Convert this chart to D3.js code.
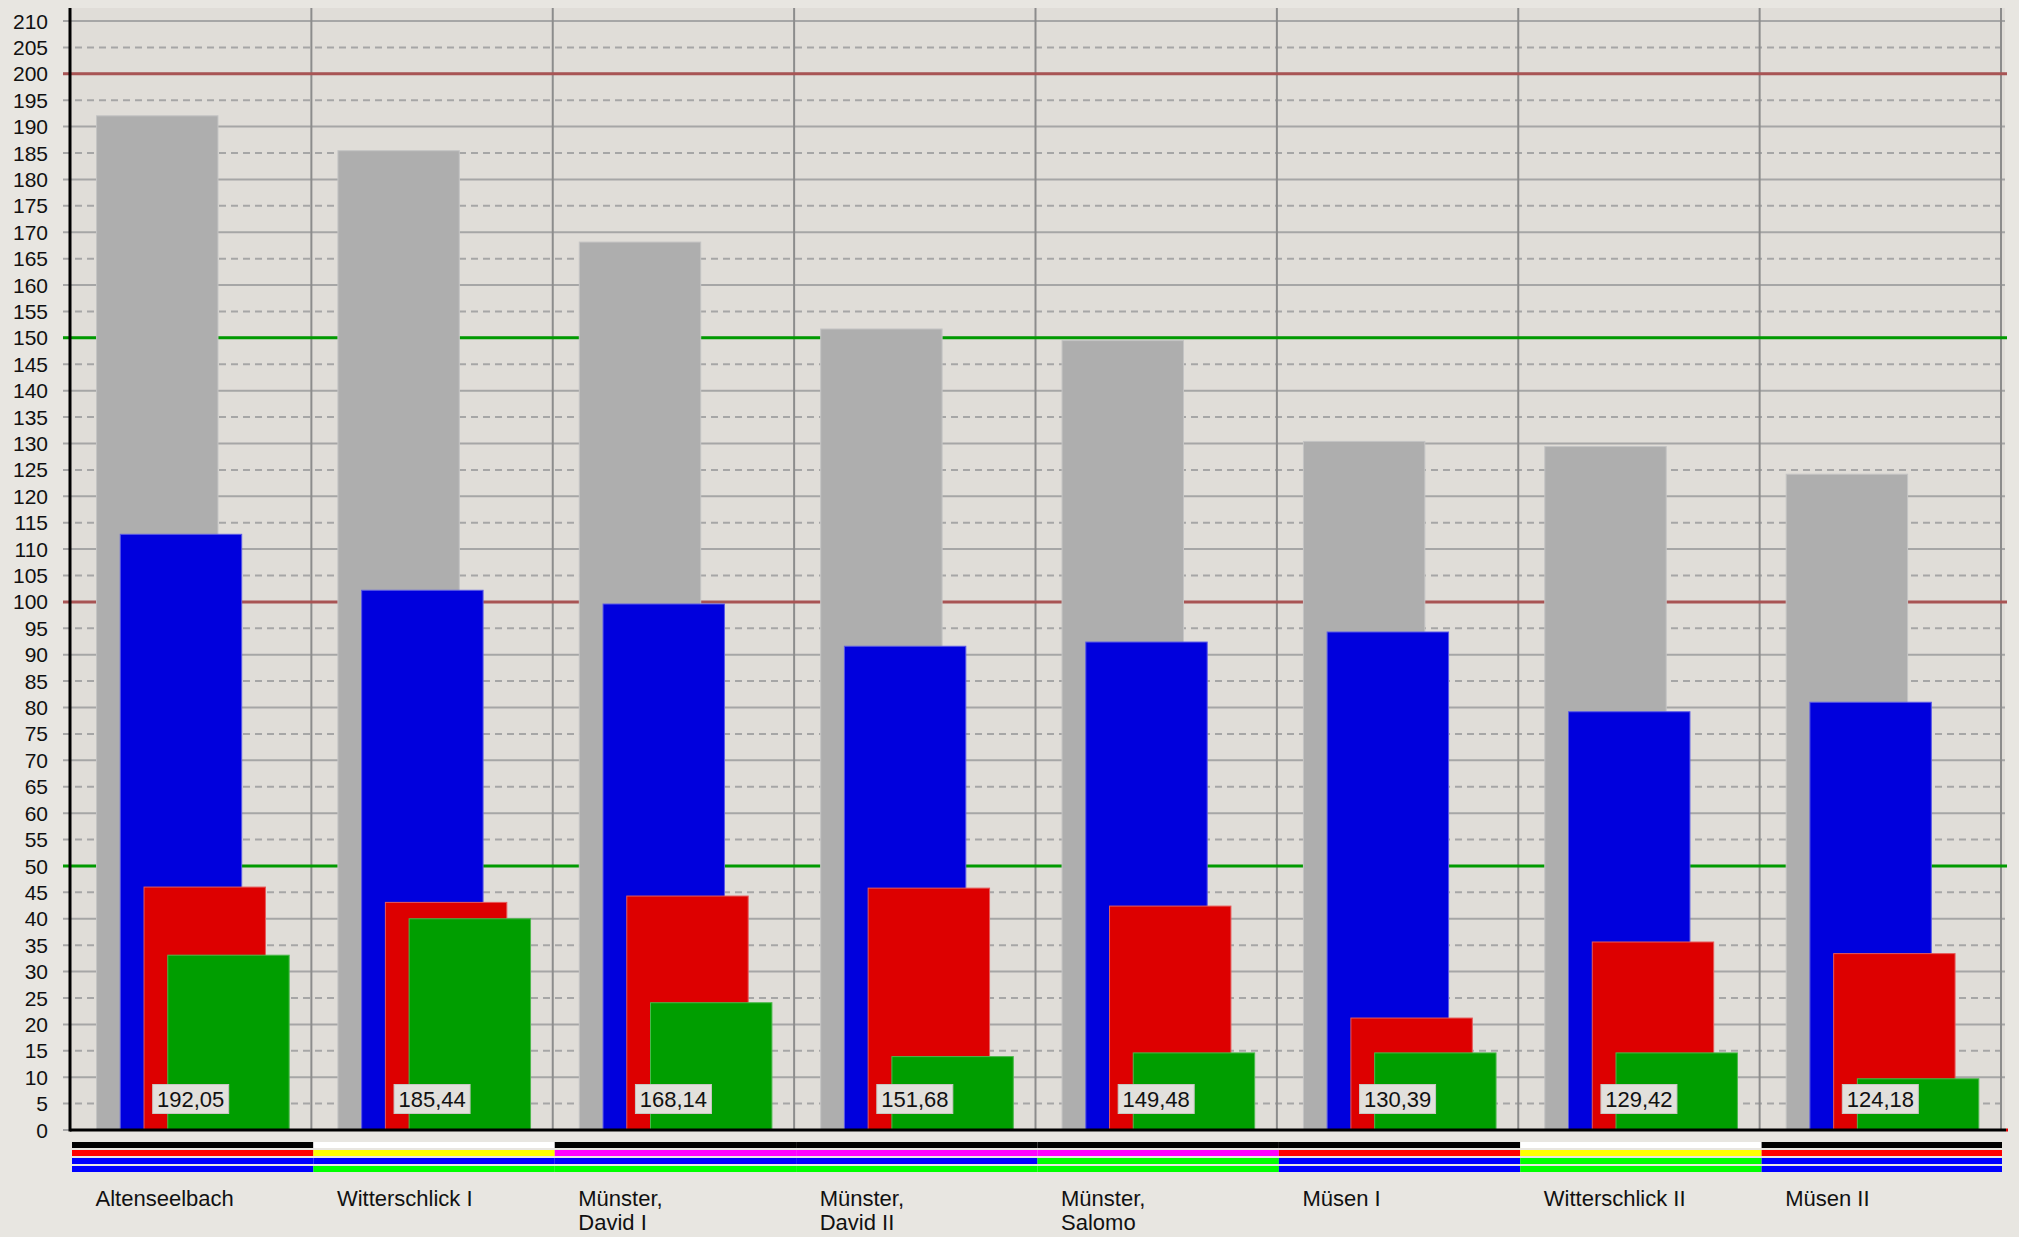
<!DOCTYPE html>
<html>
<head>
<meta charset="utf-8">
<script src="https://cdn.jsdelivr.net/npm/d3@7"></script>
<style>
  html, body { margin: 0; padding: 0; background: #e8e6e1; }
  svg { display: block; font-family: "Liberation Sans", Arial, sans-serif; }
</style>
</head>
<body>
<svg id="chart" width="2019" height="1237"></svg>
<script>
// Stations (line breaks mark the second label line)
const categories = [
  "Altenseelbach", "Witterschlick I", "Münster,\nDavid I", "Münster,\nDavid II",
  "Münster,\nSalomo", "Müsen I", "Witterschlick II", "Müsen II"
];
// Series values per station
const totalValues = [192.05, 185.44, 168.14, 151.68, 149.48, 130.39, 129.42, 124.18];
const blueValues  = [112.8, 102.2, 99.6, 91.6, 92.4, 94.3, 79.2, 81.0];
const redValues   = [46.0, 43.1, 44.3, 45.8, 42.4, 21.2, 35.6, 33.4];
const greenValues = [33.1, 40.0, 24.1, 13.9, 14.6, 14.6, 14.6, 9.7];
// Axis ticks and reference lines
const yTicks = d3.range(0, 211, 5);
const redRefs = [200, 100];
const greenRefs = [150, 50];
// Colour-code rows under each station
const codeRow1 = ["#000000", "#ffffff", "#000000", "#000000", "#000000", "#000000", "#ffffff", "#000000"];
const codeRow2 = ["#ff0000", "#ffff00", "#ff00ff", "#ff00ff", "#ff00ff", "#ff0000", "#ffff00", "#ff0000"];
const codeRow3 = ["#0000ff", "#0000ff", "#0000ff", "#0000ff", "#00ff00", "#0000ff", "#00ff00", "#0000ff"];
const codeRow4 = ["#0000ff", "#00ff00", "#00ff00", "#00ff00", "#00ff00", "#0000ff", "#00ff00", "#0000ff"];

const svg = d3.select("#chart");
const plot = { left: 70, right: 2001, top: 8, bottom: 1130, bgRight: 2005 };

const x = d3.scaleBand().domain(d3.range(categories.length)).range([plot.left, plot.right]).padding(0);
const y = d3.scaleLinear().domain([0, 210]).range([plot.bottom, 21]);
const bw = x.bandwidth();
// horizontal offset of each series inside a band
const seriesOffset = d3.scaleLinear().domain([0, 3]).range([bw * 0.11, bw * 0.405]);
const barW = bw * 0.503;

// plot background
svg.append("rect").attr("x", plot.left).attr("y", plot.top)
  .attr("width", plot.bgRight - plot.left).attr("height", plot.bottom - plot.top)
  .attr("fill", "#e0ddd8");

// horizontal grid
const grid = svg.append("g");
yTicks.forEach(t => {
  grid.append("line")
    .attr("x1", plot.left - 7).attr("x2", plot.bgRight)
    .attr("y1", y(t)).attr("y2", y(t))
    .attr("stroke", "#a6a6a6").attr("stroke-width", 2)
    .attr("stroke-dasharray", t % 10 === 0 ? null : "7,5");
});

// vertical dividers between stations
const dividers = d3.range(1, categories.length + 1).map(i => i < categories.length ? x(i) : plot.right);
svg.append("g").selectAll("line").data(dividers).join("line")
  .attr("x1", d => d).attr("x2", d => d)
  .attr("y1", plot.top).attr("y2", plot.bottom)
  .attr("stroke", "#8c8c8c").attr("stroke-width", 2);

// reference lines
const refs = svg.append("g");
redRefs.forEach(v => refs.append("line")
  .attr("x1", plot.left - 7).attr("x2", plot.bgRight + 2)
  .attr("y1", y(v)).attr("y2", y(v))
  .attr("stroke", "#a85454").attr("stroke-width", 3));
greenRefs.forEach(v => refs.append("line")
  .attr("x1", plot.left - 7).attr("x2", plot.bgRight + 2)
  .attr("y1", y(v)).attr("y2", y(v))
  .attr("stroke", "#009a00").attr("stroke-width", 3));

// bars
const series = [
  { values: totalValues, color: "#aeaeae", edge: "#c4c4c4" },
  { values: blueValues,  color: "#0000dd", edge: "#5a5ae6" },
  { values: redValues,   color: "#dd0000", edge: "#e65a5a" },
  { values: greenValues, color: "#009e00", edge: "#4cb84c" }
];
series.forEach((s, si) => {
  svg.append("g").selectAll("rect").data(s.values).join("rect")
    .attr("x", (d, i) => x(i) + seriesOffset(si))
    .attr("y", d => y(d))
    .attr("width", barW)
    .attr("height", d => y(0) - y(d))
    .attr("fill", s.color)
    .attr("stroke", s.edge).attr("stroke-width", 1);
});

// value labels of the totals
const lab = svg.append("g").selectAll("g").data(totalValues).join("g")
  .attr("transform", (d, i) => `translate(${x(i) + bw / 2},${y(0) - 31})`);
lab.append("rect").attr("x", -38).attr("y", -14.5).attr("width", 76).attr("height", 29)
  .attr("fill", "#e2e0dc").attr("stroke", "#c9c7c2").attr("stroke-width", 1);
lab.append("text").attr("text-anchor", "middle").attr("dy", "0.36em")
  .attr("font-size", 22).attr("fill", "#111")
  .text(d => d3.format(".2f")(d).replace(".", ","));

// axes
svg.append("line").attr("x1", plot.left).attr("x2", plot.left)
  .attr("y1", plot.top).attr("y2", plot.bottom + 1.5)
  .attr("stroke", "#000").attr("stroke-width", 3);
svg.append("line").attr("x1", plot.left).attr("x2", plot.bgRight + 1)
  .attr("y1", plot.bottom).attr("y2", plot.bottom)
  .attr("stroke", "#000").attr("stroke-width", 3);
svg.append("rect").attr("x", plot.bgRight + 1).attr("y", plot.bottom - 1.5)
  .attr("width", 2).attr("height", 3).attr("fill", "#e00000");

// y tick labels
svg.append("g").selectAll("text").data(yTicks).join("text")
  .attr("x", 48).attr("y", d => y(d)).attr("dy", "0.36em")
  .attr("text-anchor", "end").attr("font-size", 21).attr("fill", "#111")
  .text(d => d);

// colour-code rows
const codeRows = [codeRow1, codeRow2, codeRow3, codeRow4];
codeRows.forEach((row, ri) => {
  svg.append("g").selectAll("rect").data(row).join("rect")
    .attr("x", (d, i) => x(i) + 2)
    .attr("y", 1142 + ri * 8)
    .attr("width", (d, i) => i === row.length - 1 ? bw - 1 : bw)
    .attr("height", 6)
    .attr("fill", d => d);
});

// station labels
const cl = svg.append("g").selectAll("text").data(categories).join("text")
  .attr("x", (d, i) => x(i) + seriesOffset(0) - 1)
  .attr("y", 1206)
  .attr("font-size", 22).attr("fill", "#111");
cl.selectAll("tspan").data(d => d.split("\n")).join("tspan")
  .attr("x", function () { return d3.select(this.parentNode).attr("x"); })
  .attr("dy", (d, i) => i === 0 ? 0 : 24)
  .text(d => d);
</script>
</body>
</html>
